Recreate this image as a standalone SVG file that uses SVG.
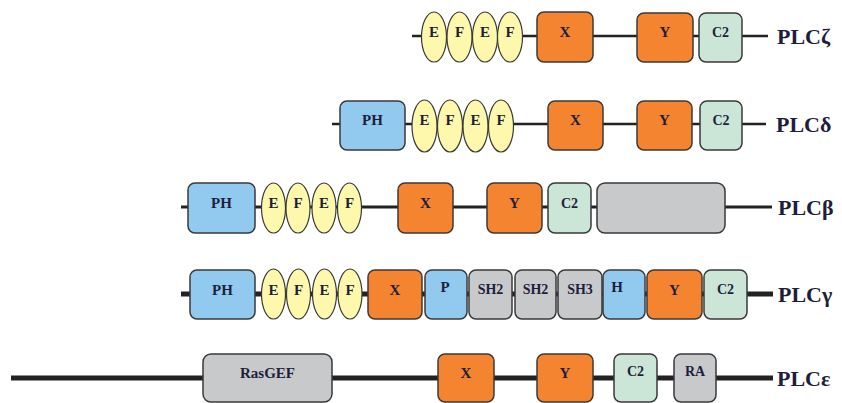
<svg xmlns="http://www.w3.org/2000/svg" width="842" height="403" viewBox="0 0 842 403">
<style>
.bb{stroke:#222;fill:none}
.d{stroke:#3a3a3a;stroke-width:1.5}
.or{fill:#F58430}
.bl{fill:#92C9EE}
.gr{fill:#C8C9CB}
.gn{fill:#CBE6D6}
.ef{fill:#FEF8AC;stroke:#3a3a3a;stroke-width:1.2}
text{font-family:"Liberation Serif","Times New Roman",serif;font-weight:bold;fill:#1e1e3c;text-anchor:middle}
.t{font-size:15px}
.s{font-size:14px}
.lab{font-size:22px;text-anchor:start}
</style>
<rect width="842" height="403" fill="#fff"/>
<g id="connectors">
<line class="bb" x1="412" y1="36" x2="768" y2="36" stroke-width="2.5"/>
<line class="bb" x1="332" y1="124" x2="766" y2="124" stroke-width="2.5"/>
<line class="bb" x1="181" y1="207" x2="772" y2="207" stroke-width="3"/>
<line class="bb" x1="181" y1="294" x2="773" y2="294" stroke-width="5"/>
<line class="bb" x1="11" y1="378" x2="773" y2="378" stroke-width="5"/>
</g>

<g id="plc-zeta">
<ellipse class="ef" cx="434" cy="37" rx="12.5" ry="25"/><text class="t" x="434" y="37">E</text>
<ellipse class="ef" cx="459.5" cy="37" rx="12.5" ry="25"/><text class="t" x="459.5" y="37">F</text>
<ellipse class="ef" cx="485" cy="37" rx="12.5" ry="25"/><text class="t" x="485" y="37">E</text>
<ellipse class="ef" cx="510" cy="37" rx="12.5" ry="25"/><text class="t" x="510" y="37">F</text>
<rect class="d or" x="537" y="12" width="56" height="50" rx="7"/><text class="t" x="565" y="37">X</text>
<rect class="d or" x="637" y="13" width="56" height="49" rx="7"/><text class="t" x="665" y="37">Y</text>
<rect class="d gn" x="699" y="13" width="43" height="49" rx="7"/><text class="s" x="720.5" y="37">C2</text>
<text class="lab" x="777" y="44">PLCζ</text>
</g>

<g id="plc-delta">
<rect class="d bl" x="340" y="101" width="65" height="49" rx="7"/><text class="t" x="372.5" y="125">PH</text>
<ellipse class="ef" cx="424.5" cy="126" rx="12.5" ry="26"/><text class="t" x="424.5" y="125">E</text>
<ellipse class="ef" cx="450" cy="126" rx="12.5" ry="26"/><text class="t" x="450" y="125">F</text>
<ellipse class="ef" cx="475.5" cy="126" rx="12.5" ry="26"/><text class="t" x="475.5" y="125">E</text>
<ellipse class="ef" cx="501" cy="126" rx="12.5" ry="26"/><text class="t" x="501" y="125">F</text>
<rect class="d or" x="548" y="101" width="55" height="49" rx="7"/><text class="t" x="575.5" y="125">X</text>
<rect class="d or" x="637" y="101" width="55" height="49" rx="7"/><text class="t" x="664.5" y="125">Y</text>
<rect class="d gn" x="700" y="101" width="42" height="49" rx="7"/><text class="s" x="721" y="125">C2</text>
<text class="lab" x="776" y="132">PLCδ</text>
</g>

<g id="plc-beta">
<rect class="d bl" x="188" y="183" width="67" height="50" rx="7"/><text class="t" x="221.5" y="208">PH</text>
<ellipse class="ef" cx="273.5" cy="208" rx="12" ry="25"/><text class="t" x="273.5" y="208">E</text>
<ellipse class="ef" cx="298" cy="208" rx="12" ry="25"/><text class="t" x="298" y="208">F</text>
<ellipse class="ef" cx="324" cy="208" rx="12" ry="25"/><text class="t" x="324" y="208">E</text>
<ellipse class="ef" cx="349.5" cy="208" rx="12" ry="25"/><text class="t" x="349.5" y="208">F</text>
<rect class="d or" x="398" y="183" width="55" height="50" rx="7"/><text class="t" x="425.5" y="208">X</text>
<rect class="d or" x="487" y="183" width="55" height="50" rx="7"/><text class="t" x="514.5" y="208">Y</text>
<rect class="d gn" x="548" y="183" width="43" height="50" rx="7"/><text class="s" x="569.5" y="208">C2</text>
<rect class="d gr" x="597" y="183" width="128" height="50" rx="8"/>
<text class="lab" x="778" y="215">PLCβ</text>
</g>

<g id="plc-gamma">
<rect class="d bl" x="190" y="270" width="65" height="49" rx="7"/><text class="t" x="222.5" y="295">PH</text>
<ellipse class="ef" cx="273.5" cy="294" rx="12" ry="25"/><text class="t" x="273.5" y="295">E</text>
<ellipse class="ef" cx="298.5" cy="294" rx="12" ry="25"/><text class="t" x="298.5" y="295">F</text>
<ellipse class="ef" cx="324.5" cy="294" rx="12" ry="25"/><text class="t" x="324.5" y="295">E</text>
<ellipse class="ef" cx="350" cy="294" rx="12" ry="25"/><text class="t" x="350" y="295">F</text>
<rect class="d or" x="368" y="270" width="54" height="49" rx="7"/><text class="t" x="395" y="295">X</text>
<rect class="d bl" x="425" y="270" width="42" height="49" rx="7"/><text class="t" x="445" y="292">P</text>
<rect class="d gr" x="469" y="270" width="43" height="49" rx="7"/><text class="s" x="490.5" y="294">SH2</text>
<rect class="d gr" x="515" y="270" width="41" height="49" rx="7"/><text class="s" x="535.5" y="294">SH2</text>
<rect class="d gr" x="558" y="270" width="44" height="49" rx="7"/><text class="s" x="580" y="294">SH3</text>
<rect class="d bl" x="603" y="270" width="42" height="49" rx="7"/><text class="t" x="617" y="292">H</text>
<rect class="d or" x="647" y="270" width="55" height="49" rx="7"/><text class="t" x="674.5" y="295">Y</text>
<rect class="d gn" x="704" y="270" width="43" height="49" rx="7"/><text class="s" x="725.5" y="294">C2</text>
<text class="lab" x="778" y="302">PLCγ</text>
</g>

<g id="plc-epsilon">
<rect class="d gr" x="203" y="354" width="129" height="48" rx="8"/><text class="t" x="267.5" y="378">RasGEF</text>
<rect class="d or" x="438" y="354" width="56" height="48" rx="7"/><text class="t" x="466" y="378">X</text>
<rect class="d or" x="537" y="354" width="56" height="48" rx="7"/><text class="t" x="565" y="378">Y</text>
<rect class="d gn" x="614" y="354" width="43" height="48" rx="7"/><text class="s" x="635.5" y="376">C2</text>
<rect class="d gr" x="674" y="354" width="42" height="48" rx="7"/><text class="s" x="695" y="376">RA</text>
<text class="lab" x="777" y="386">PLCε</text>
</g>
</svg>
